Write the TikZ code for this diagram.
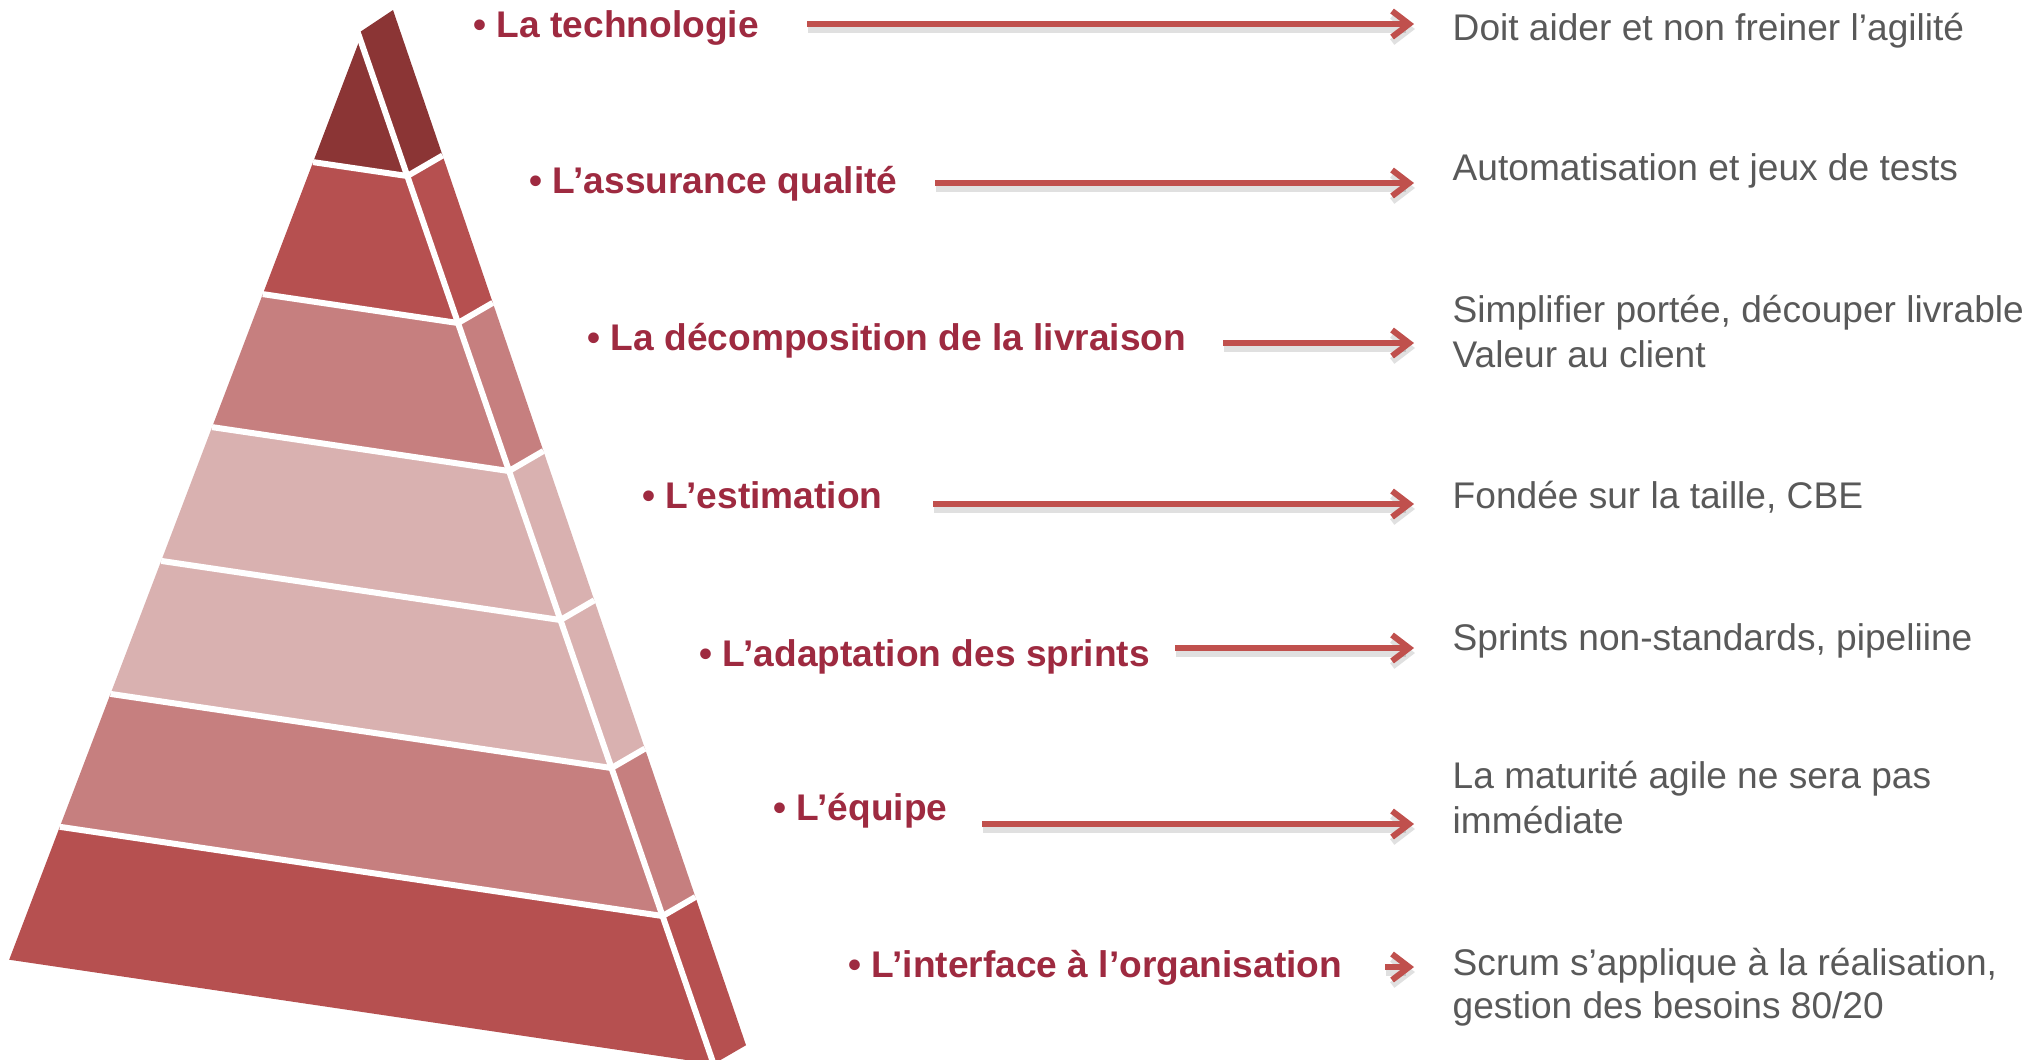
\documentclass[tikz,border=0pt]{standalone}
\usepackage{fontspec}
\setmainfont{Liberation Sans}
\usetikzlibrary{arrows.meta}
\definecolor{pyrA}{HTML}{8B3535}
\definecolor{pyrB}{HTML}{B65050}
\definecolor{pyrC}{HTML}{C67F7F}
\definecolor{pyrD}{HTML}{D9B1B0}
\definecolor{lblred}{HTML}{9E2A40}
\definecolor{arrred}{HTML}{C0504D}
\definecolor{txtgray}{HTML}{595959}
\begin{document}
\begin{tikzpicture}[x=0.01cm,y=-0.01cm,
  lbl/.style={anchor=base west,inner sep=0pt,text=lblred,font=\fontsize{10.55pt}{12.8pt}\selectfont\bfseries},
  rtxt/.style={anchor=base west,inner sep=0pt,text=txtgray,font=\fontsize{10.55pt}{12.8pt}\selectfont},
  conn/.style={draw=arrred,line width=0.06cm,-{Straight Barb[length=0.17cm,width=0.26cm]}},
  connshadow/.style={draw=black,opacity=0.12,line width=0.07cm,-{Straight Barb[length=0.17cm,width=0.26cm]}},
  gap/.style={draw=white,line width=0.06cm,line cap=square,line join=round}]
\useasboundingbox (0,0) rectangle (2042,1059);
\fill[white] (0,0) rectangle (2042,1059);
\clip (0,0) rectangle (2042,1059);

% ---------- pyramid ----------
% layer 1
\fill[pyrA] (360,39) -- (407.3,176) -- (313.1,162.1) -- cycle;
\fill[pyrA] (357.2,33.9) -- (393,10) -- (442.6,155.5) -- (407.3,176) -- cycle;
% layer 2
\fill[pyrB] (313.1,162.1) -- (407.3,176) -- (458,323) -- (262.8,294.1) -- cycle;
\fill[pyrB] (407.3,176) -- (442.6,155.5) -- (492.8,302.8) -- (458,323) -- cycle;
% layer 3
\fill[pyrC] (262.8,294.1) -- (458,323) -- (509,471) -- (212.1,427.1) -- cycle;
\fill[pyrC] (458,323) -- (492.8,302.8) -- (543.4,451) -- (509,471) -- cycle;
% layer 4
\fill[pyrD] (212.1,427.1) -- (509,471) -- (560.4,620) -- (161.2,560.9) -- cycle;
\fill[pyrD] (509,471) -- (543.4,451) -- (594.3,600.3) -- (560.4,620) -- cycle;
% layer 5
\fill[pyrD] (161.2,560.9) -- (560.4,620) -- (611.5,768) -- (110.5,693.9) -- cycle;
\fill[pyrD] (560.4,620) -- (594.3,600.3) -- (644.9,748.6) -- (611.5,768) -- cycle;
% layer 6
\fill[pyrC] (110.5,693.9) -- (611.5,768) -- (662.6,916) -- (59.8,826.8) -- cycle;
\fill[pyrC] (611.5,768) -- (644.9,748.6) -- (695.4,897) -- (662.6,916) -- cycle;
% layer 7
\fill[pyrB] (59.8,826.8) -- (662.6,916) -- (713.6,1064) -- (9.2,959.7) -- cycle;
\fill[pyrB] (662.6,916) -- (695.4,897) -- (746,1045.2) -- (713.6,1064) -- cycle;
% white gaps
\draw[gap] (356.6,29) -- (715,1068);
\draw[gap] (313.1,162.1) -- (407.3,176) -- (442.6,155.5);
\draw[gap] (262.8,294.1) -- (458,323) -- (492.8,302.8);
\draw[gap] (212.1,427.1) -- (509,471) -- (543.4,451);
\draw[gap] (161.2,560.9) -- (560.4,620) -- (594.3,600.3);
\draw[gap] (110.5,693.9) -- (611.5,768) -- (644.9,748.6);
\draw[gap] (59.8,826.8) -- (662.6,916) -- (695.4,897);

% ---------- labels ----------
\node[lbl] (l1) at (473,37) {• La technologie};
\node[lbl] (l2) at (529,193) {• L’assurance qualité};
\node[lbl] (l3) at (587,350) {• La décomposition de la livraison};
\node[lbl] (l4) at (642,508) {• L’estimation};
\node[lbl] (l5) at (699,666) {• L’adaptation des sprints};
\node[lbl] (l6) at (773,820) {• L’équipe};
\node[lbl] (l7) at (848,977) {• L’interface à l’organisation};

% ---------- right texts ----------
\node[rtxt] (r1) at (1452,40) {Doit aider et non freiner l’agilité};
\node[rtxt] (r2) at (1452,180) {Automatisation et jeux de tests};
\node[rtxt] (r3a) at (1452,322) {Simplifier portée, découper livrable};
\node[rtxt] (r3b) at (1452,367) {Valeur au client};
\node[rtxt] (r4) at (1452,508) {Fondée sur la taille, CBE};
\node[rtxt] (r5) at (1452,650) {Sprints non-standards, pipeliine};
\node[rtxt] (r6a) at (1452,788) {La maturité agile ne sera pas};
\node[rtxt] (r6b) at (1452,833) {immédiate};
\node[rtxt] (r7a) at (1452,975) {Scrum s’applique à la réalisation,};
\node[rtxt] (r7b) at (1452,1018) {gestion des besoins 80/20};

% ---------- arrows ----------
\coordinate (a1s) at (807,24);  \coordinate (a1e) at (1414,24);
\coordinate (a2s) at (935,183); \coordinate (a2e) at (1414,183);
\coordinate (a3s) at (1223,343);\coordinate (a3e) at (1414,343);
\coordinate (a4s) at (933,504); \coordinate (a4e) at (1414,504);
\coordinate (a5s) at (1175,648);\coordinate (a5e) at (1414,648);
\coordinate (a6s) at (982,824); \coordinate (a6e) at (1414,824);
\coordinate (a7s) at (1385,967);\coordinate (a7e) at (1414,967);
\foreach \k in {1,...,7}{
  \draw[connshadow] ([shift={(0.01cm,-0.05cm)}]a\k s) -- ([shift={(0.01cm,-0.05cm)}]a\k e);
  \draw[conn] (a\k s) -- (a\k e);
}
\end{tikzpicture}
\end{document}
